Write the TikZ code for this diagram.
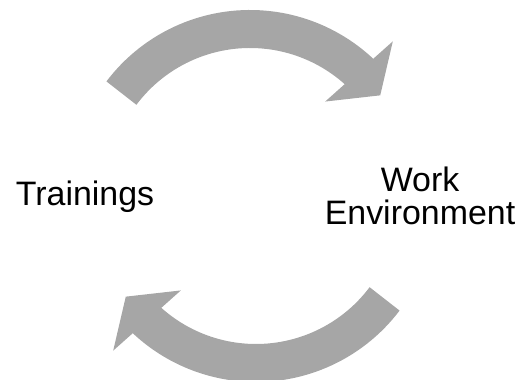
\documentclass[tikz,border=0pt]{standalone}
\usepackage{fontspec}
\setmainfont{Liberation Sans}
\usetikzlibrary{arrows.meta,bending,positioning}
\definecolor{cyclegray}{RGB}{166,166,166}

\begin{document}
\begin{tikzpicture}[
cycle arrow/.style={
	draw=cyclegray,
	line width=0.76cm,
	-{Triangle[length=0.64cm,width=1.78cm]}
},
label text/.style={
	font=\fontsize{19.3}{18.8}\selectfont,
	align=center,
	inner sep=0pt
}
]
\useasboundingbox (0,0) rectangle (10.46,7.6);

% centres of the two arcs
\coordinate (ctop) at (5.0,3.8);
\coordinate (cbot) at (5.12,3.56);

\node[label text,anchor=base] (train) at (1.7,3.48) {Trainings};
\node[label text] (work) at (8.4,3.69) {Work\\Environment};

\draw[cycle arrow] (ctop) ++(143:3.22) arc[start angle=143,end angle=36,radius=3.22];
\draw[cycle arrow] (cbot) ++(-37:3.22) arc[start angle=-37,end angle=-144,radius=3.22];
\end{tikzpicture}
\end{document}
